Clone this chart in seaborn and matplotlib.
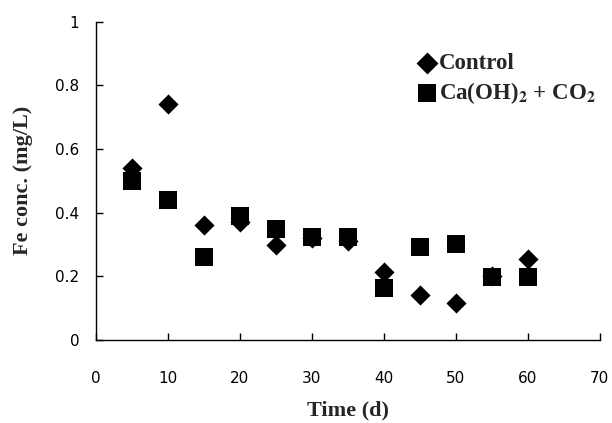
import pandas as pd
import seaborn as sns
import matplotlib.pyplot as plt

# data
days = [5, 10, 15, 20, 25, 30, 35, 40, 45, 50, 55, 60]
control = [0.54, 0.74, 0.36, 0.37, 0.30, 0.32, 0.31, 0.215, 0.14, 0.118, 0.20, 0.254]
treated = [0.50, 0.44, 0.26, 0.39, 0.35, 0.323, 0.323, 0.163, 0.293, 0.303, 0.199, 0.199]

x_ticks = [0, 10, 20, 30, 40, 50, 60, 70]
y_ticks = [0, 0.2, 0.4, 0.6, 0.8, 1]
y_ticklabels = ['0', '0.2', '0.4', '0.6', '0.8', '1']

df_ctrl = pd.DataFrame({'Time': days, 'Fe': control})
df_trt = pd.DataFrame({'Time': days, 'Fe': treated})

sns.set_style('ticks')
plt.rcParams['mathtext.fontset'] = 'stix'
plt.rcParams['mathtext.default'] = 'bf'

fig = plt.figure(figsize=(6.12, 4.23), dpi=100)
ax = fig.add_axes([0.157, 0.196, 0.823, 0.753])

sns.scatterplot(data=df_ctrl, x='Time', y='Fe', marker='D', s=105, color='black',
                linewidth=0, label='Control', ax=ax)
sns.scatterplot(data=df_trt, x='Time', y='Fe', marker='s', s=177, color='black',
                linewidth=0, label='Ca(OH)$_2$ + CO$_2$', ax=ax)

ax.set_xlim(0, 70)
ax.set_ylim(0, 1)
ax.set_xticks(x_ticks)
ax.set_yticks(y_ticks)
ax.set_yticklabels(y_ticklabels)
ax.tick_params(direction='in', length=5, width=1, colors='black', labelsize=11)
ax.tick_params(axis='x', pad=22)
ax.tick_params(axis='y', pad=12)
for lab in ax.get_xticklabels() + ax.get_yticklabels():
    lab.set_family('DejaVu Sans')

for side in ['top', 'right']:
    ax.spines[side].set_visible(False)
for side in ['left', 'bottom']:
    ax.spines[side].set_linewidth(1)
    ax.spines[side].set_color('black')

ax.set_xlabel('Time (d)', family='Liberation Serif', fontweight='bold', fontsize=16, labelpad=11)
ax.set_ylabel('Fe conc. (mg/L)', family='Liberation Serif', fontweight='bold', fontsize=16, labelpad=16)

leg = ax.legend(loc='upper right', bbox_to_anchor=(1.024, 0.951), frameon=False,
                handletextpad=0.0, handlelength=1.0, labelspacing=0.25, borderpad=0.2,
                prop={'family': 'Liberation Serif', 'weight': 'bold', 'size': 16.5})
leg.legend_handles[0].set_sizes([125])
leg.legend_handles[1].set_sizes([185])

fig.savefig('out.png', dpi=100)
